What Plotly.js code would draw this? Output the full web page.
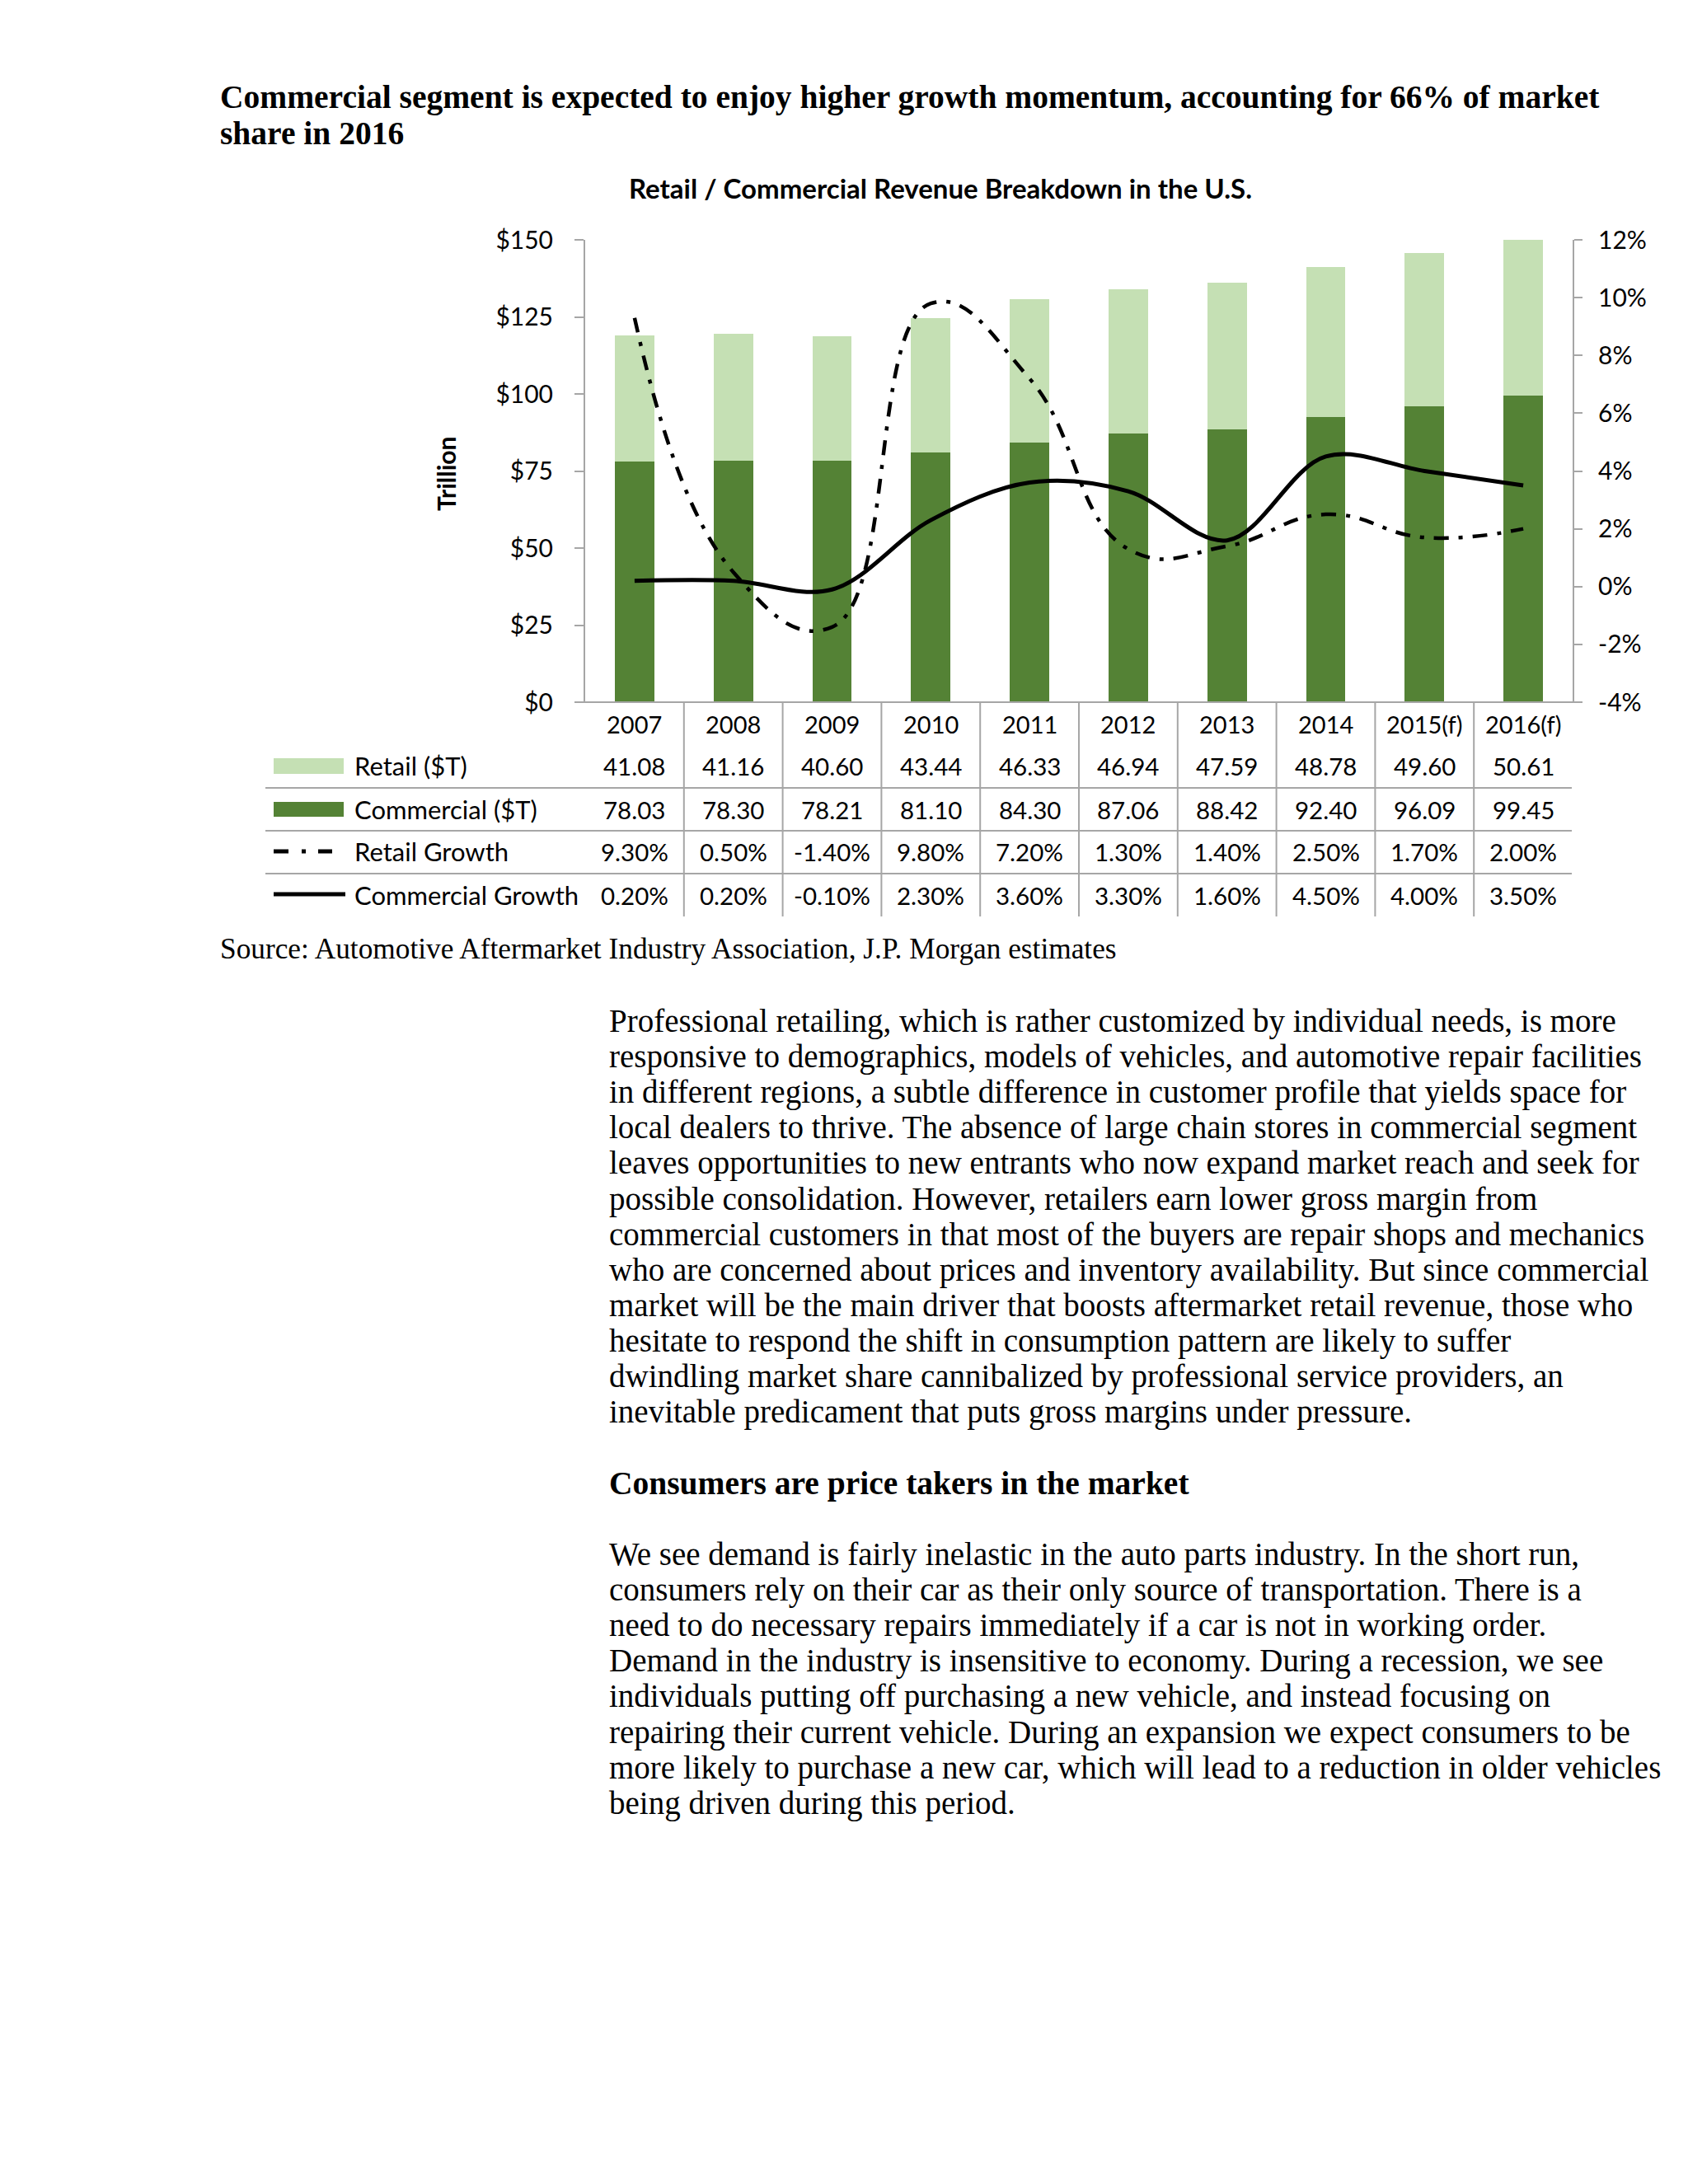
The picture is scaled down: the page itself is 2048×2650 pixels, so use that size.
<!DOCTYPE html>
<html>
<head>
<meta charset="utf-8">
<script src="https://cdn.plot.ly/plotly-3.0.1.min.js"></script>
<style>html,body{margin:0;padding:0;background:#fff;}#chart{width:2048px;height:2650px;}</style>
</head>
<body>
<div id="chart"></div>
<script>
// ---------- DATA ----------
const years = ['2007','2008','2009','2010','2011','2012','2013','2014','2015(f)','2016(f)'];
const retail = [41.08, 41.16, 40.60, 43.44, 46.33, 46.94, 47.59, 48.78, 49.60, 50.61];
const commercial = [78.03, 78.30, 78.21, 81.10, 84.30, 87.06, 88.42, 92.40, 96.09, 99.45];
const retailGrowth = [9.30, 0.50, -1.40, 9.80, 7.20, 1.30, 1.40, 2.50, 1.70, 2.00];
const commercialGrowth = [0.20, 0.20, -0.10, 2.30, 3.60, 3.30, 1.60, 4.50, 4.00, 3.50];
const seriesNames = ['Retail ($T)', 'Commercial ($T)', 'Retail Growth', 'Commercial Growth'];
const leftTicks = [0, 25, 50, 75, 100, 125, 150];
const rightTicks = [-4, -2, 0, 2, 4, 6, 8, 10, 12];

const heading = ['Commercial segment is expected to enjoy higher growth momentum, accounting for 66% of market', 'share in 2016'];
const chartTitle = 'Retail / Commercial Revenue Breakdown in the U.S.';
const yTitle = 'Trillion';
const sourceText = 'Source: Automotive Aftermarket Industry Association, J.P. Morgan estimates';
const para1 = [
 'Professional retailing, which is rather customized by individual needs, is more',
 'responsive to demographics, models of vehicles, and automotive repair facilities',
 'in different regions, a subtle difference in customer profile that yields space for',
 'local dealers to thrive. The absence of large chain stores in commercial segment',
 'leaves opportunities to new entrants who now expand market reach and seek for',
 'possible consolidation. However, retailers earn lower gross margin from',
 'commercial customers in that most of the buyers are repair shops and mechanics',
 'who are concerned about prices and inventory availability. But since commercial',
 'market will be the main driver that boosts aftermarket retail revenue, those who',
 'hesitate to respond the shift in consumption pattern are likely to suffer',
 'dwindling market share cannibalized by professional service providers, an',
 'inevitable predicament that puts gross margins under pressure.'
];
const subHeading = 'Consumers are price takers in the market';
const para2 = [
 'We see demand is fairly inelastic in the auto parts industry. In the short run,',
 'consumers rely on their car as their only source of transportation. There is a',
 'need to do necessary repairs immediately if a car is not in working order.',
 'Demand in the industry is insensitive to economy. During a recession, we see',
 'individuals putting off purchasing a new vehicle, and instead focusing on',
 'repairing their current vehicle. During an expansion we expect consumers to be',
 'more likely to purchase a new car, which will lead to a reduction in older vehicles',
 'being driven during this period.'
];

// ---------- LAYOUT HELPERS ----------
const W = 2048, H = 2650;
const L = 710, R = 1908, T = 291, B = 852;
const px = X => (X - L) / (R - L);
const py = Y => (B - Y) / (B - T);

const SANS = 'Lato, "Open Sans", sans-serif';
const SERIF = '"Liberation Serif", "DejaVu Serif", serif';
const GRID = '#a6a6a6';
const LIGHT = '#c5e0b4';
const DARK = '#548235';

const traces = [
  {type:'bar', x:years, y:commercial, name:seriesNames[1], marker:{color:DARK}, hoverinfo:'none'},
  {type:'bar', x:years, y:retail, name:seriesNames[0], marker:{color:LIGHT}, hoverinfo:'none'},
  {type:'scatter', mode:'lines', x:years, y:retailGrowth, name:seriesNames[2], yaxis:'y2',
   line:{color:'#000', width:4.5, dash:'18px,12px,5px,12px', shape:'spline', smoothing:1.3}, hoverinfo:'none'},
  {type:'scatter', mode:'lines', x:years, y:commercialGrowth, name:seriesNames[3], yaxis:'y2',
   line:{color:'#000', width:5, shape:'spline', smoothing:1}, hoverinfo:'none'}
];

const ann = [];
const shapes = [];
function txt(X, Y, text, opt) {
  ann.push(Object.assign({xref:'paper', yref:'paper', x:px(X), y:py(Y), text:text, showarrow:false,
    xanchor:'left', yanchor:'middle', font:{family:SERIF, size:39, color:'#000'}}, opt || {}));
}

// Document heading
heading.forEach((t, i) => txt(265, 118 + i * 44, '<b>' + t + '</b>', {font:{family:SERIF, size:39.5, color:'#000'}}));
// Chart title
txt(1141, 228, '<b>' + chartTitle + '</b>', {xanchor:'center', font:{family:SANS, size:33, color:'#000'}});
// Y title
txt(541, 575, '<b>' + yTitle + '</b>', {xanchor:'center', textangle:-90, font:{family:SANS, size:30, color:'#000'}});
// Source
txt(265, 1151, sourceText, {font:{family:SERIF, size:35.3, color:'#000'}});
// Body text
para1.forEach((t, i) => txt(737, 1239 + i * 43.1, t));
txt(737, 1800, '<b>' + subHeading + '</b>', {font:{family:SERIF, size:39.5, color:'#000'}});
para2.forEach((t, i) => txt(737, 1886 + i * 43.1, t));

// Data table
const rowY = [929, 982, 1033, 1086];
const rowVals = [
  retail.map(v => v.toFixed(2)),
  commercial.map(v => v.toFixed(2)),
  retailGrowth.map(v => v.toFixed(2) + '%'),
  commercialGrowth.map(v => v.toFixed(2) + '%')
];
years.forEach((yr, i) => {
  ann.push({xref:'x', yref:'paper', x:i, y:py(878), text:yr, showarrow:false, xanchor:'center', yanchor:'middle',
    font:{family:SANS, size:29, color:'#000'}});
  rowVals.forEach((vals, r) => {
    ann.push({xref:'x', yref:'paper', x:i, y:py(rowY[r]), text:vals[i], showarrow:false, xanchor:'center', yanchor:'middle',
      font:{family:SANS, size:29.5, color:'#000'}});
  });
});
seriesNames.forEach((n, r) => txt(428, rowY[r], n, {font:{family:SANS, size:31, color:'#000'}}));

// Table lines
[956, 1008, 1060].forEach(Y => shapes.push({type:'line', xref:'paper', yref:'paper', x0:px(322), x1:px(1907), y0:py(Y), y1:py(Y), line:{color:GRID, width:2}}));
for (let i = 0; i < years.length - 1; i++) {
  shapes.push({type:'line', xref:'x', yref:'paper', x0:i + 0.5, x1:i + 0.5, y0:py(852), y1:py(1112), line:{color:GRID, width:2}});
}
// x axis line
shapes.push({type:'line', xref:'paper', yref:'paper', x0:px(699), x1:px(1918), y0:0, y1:0, line:{color:GRID, width:2}});
// Legend keys
shapes.push({type:'rect', xref:'paper', yref:'paper', x0:px(332), x1:px(417), y0:py(920), y1:py(939), fillcolor:LIGHT, line:{width:0}});
shapes.push({type:'rect', xref:'paper', yref:'paper', x0:px(332), x1:px(417), y0:py(973), y1:py(991), fillcolor:DARK, line:{width:0}});
[[332,350],[366,371],[386,403]].forEach(s => shapes.push({type:'line', xref:'paper', yref:'paper', x0:px(s[0]), x1:px(s[1]), y0:py(1033), y1:py(1033), line:{color:'#000', width:5}}));
shapes.push({type:'line', xref:'paper', yref:'paper', x0:px(332), x1:px(419), y0:py(1085), y1:py(1085), line:{color:'#000', width:5}});

const layout = {
  width:W, height:H, autosize:false,
  margin:{l:L, r:W - R, t:T, b:H - B, pad:0},
  paper_bgcolor:'#fff', plot_bgcolor:'rgba(0,0,0,0)',
  showlegend:false, barmode:'stack', bargap:0.6,
  xaxis:{type:'category', showticklabels:false, ticks:'', showgrid:false, zeroline:false, showline:false, fixedrange:true},
  yaxis:{range:[0,150], tickvals:leftTicks, ticktext:leftTicks.map(v => '$' + v), showgrid:false, zeroline:false,
    showline:true, linecolor:GRID, linewidth:2, ticks:'outside', ticklen:11, tickwidth:2, tickcolor:GRID,
    ticklabelstandoff:20, tickfont:{family:SANS, size:30, color:'#000'}, fixedrange:true},
  yaxis2:{overlaying:'y', side:'right', range:[-4,12], tickvals:rightTicks, ticktext:rightTicks.map(v => v + '%'),
    showgrid:false, zeroline:false, showline:true, linecolor:GRID, linewidth:2, ticks:'outside', ticklen:10, tickwidth:2,
    tickcolor:GRID, ticklabelstandoff:13, tickfont:{family:SANS, size:30, color:'#000'}, fixedrange:true},
  annotations:ann,
  shapes:shapes
};

Plotly.newPlot('chart', traces, layout, {staticPlot:true, displayModeBar:false});
</script>
</body>
</html>
